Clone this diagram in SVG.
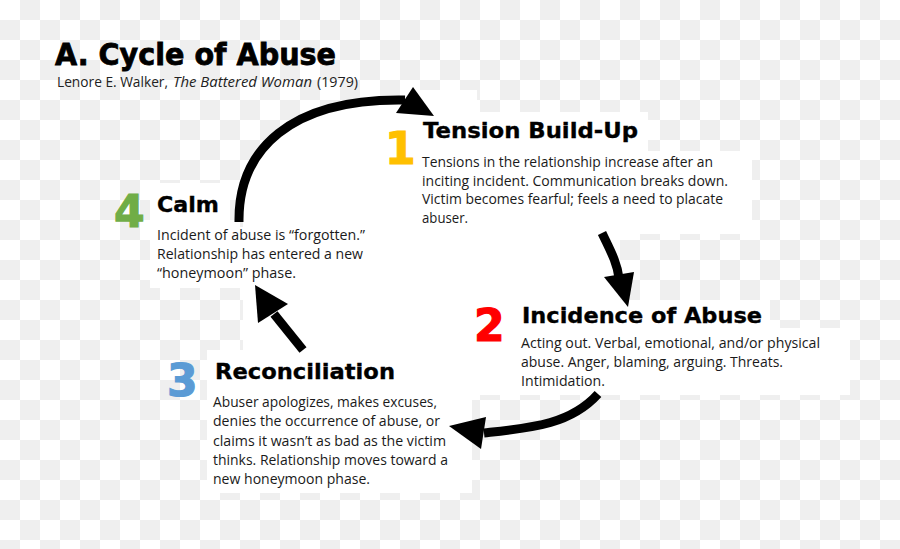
<svg xmlns="http://www.w3.org/2000/svg" width="900" height="549" viewBox="0 0 900 549">
<defs>
<pattern id="checker" x="0" y="0" width="40" height="40" patternUnits="userSpaceOnUse">
<rect x="0" y="0" width="40" height="40" fill="#ffffff"/>
<rect x="20" y="0" width="20" height="20" fill="#efefef"/>
<rect x="0" y="20" width="20" height="20" fill="#efefef"/>
</pattern>
<style>
.bg{fill:#ffffff;}
.title{font-family:"DejaVu Sans","Liberation Sans",sans-serif;font-weight:bold;font-size:30px;fill:#000;stroke:#000;stroke-width:0.8;}
.sub{font-family:"Open Sans","Liberation Sans",sans-serif;font-size:14px;fill:#222;}
.head{font-family:"DejaVu Sans","Liberation Sans",sans-serif;font-weight:bold;font-size:22px;fill:#000;stroke:#000;stroke-width:0.35;}
.num{font-family:"DejaVu Sans","Liberation Sans",sans-serif;font-weight:bold;font-size:44px;stroke-width:1.2;}
.body{font-family:"Open Sans","Liberation Sans",sans-serif;font-size:14px;fill:#1a1a1a;}
.shaft{fill:none;stroke:#000;stroke-width:9;}
.head-arrow{fill:#000;}
</style>
</defs>
<rect x="0" y="0" width="900" height="549" fill="url(#checker)"/>
<g id="white-areas" class="bg">
<path d="M243 290 L243 180 C250 140 300 104 405 104 L420 104 L420 300 L470 300 L470 350 L243 350 Z"/>
<rect x="150" y="183" width="80" height="45"/>
<rect x="150" y="227" width="222" height="61"/>
<rect x="420" y="90" width="57" height="22"/>
<rect x="417" y="112" width="231" height="40"/>
<rect x="417" y="151" width="335" height="83"/>
<rect x="420" y="233" width="200" height="67"/>
<rect x="470" y="300" width="300" height="28"/>
<rect x="470" y="328" width="380" height="67"/>
<rect x="207" y="350" width="265" height="40"/>
<rect x="207" y="390" width="265" height="103"/>
</g>
<g id="title">
<text class="title" x="55" y="65" textLength="281" lengthAdjust="spacingAndGlyphs">A. Cycle of Abuse</text>
<text class="sub" x="57" y="87" textLength="111" lengthAdjust="spacingAndGlyphs">Lenore E. Walker,</text>
<text class="sub" x="173" y="87" font-style="italic" textLength="139" lengthAdjust="spacingAndGlyphs">The Battered Woman</text>
<text class="sub" x="317" y="87" textLength="41" lengthAdjust="spacingAndGlyphs">(1979)</text>
</g>
<g id="connectors">
<path class="shaft" d="M239 222 C238 150 290 98 405 100"/>
<polygon class="head-arrow" points="413,87 434,116 396,113"/>
<path class="shaft" stroke-width="8" d="M602 233 C610 250 617 262 619 278"/>
<polygon class="head-arrow" points="604,277 634,272 628,307"/>
<path class="shaft" d="M598 394 C570 425 530 428 484 433"/>
<polygon class="head-arrow" points="449,426 486,417 481,449"/>
<path class="shaft" d="M303 350 L274 314"/>
<polygon class="head-arrow" points="255,285 288,304 258,323"/>
</g>
<g id="node-1">
<text class="num" x="385" y="164" fill="#FFC000" stroke="#FFC000">1</text>
<text class="head" x="423" y="138" textLength="215" lengthAdjust="spacingAndGlyphs">Tension Build-Up</text>
<text class="body" x="422" y="167" textLength="291" lengthAdjust="spacingAndGlyphs">Tensions in the relationship increase after an</text>
<text class="body" x="422" y="186" textLength="306" lengthAdjust="spacingAndGlyphs">inciting incident. Communication breaks down.</text>
<text class="body" x="422" y="204" textLength="301" lengthAdjust="spacingAndGlyphs">Victim becomes fearful; feels a need to placate</text>
<text class="body" x="422" y="223" textLength="46" lengthAdjust="spacingAndGlyphs">abuser.</text>
</g>
<g id="node-2">
<text class="num" x="474" y="341" fill="#FF0000" stroke="#FF0000">2</text>
<text class="head" x="522" y="323" textLength="240" lengthAdjust="spacingAndGlyphs">Incidence of Abuse</text>
<text class="body" x="521" y="348" textLength="299" lengthAdjust="spacingAndGlyphs">Acting out. Verbal, emotional, and/or physical</text>
<text class="body" x="521" y="367" textLength="262" lengthAdjust="spacingAndGlyphs">abuse. Anger, blaming, arguing. Threats.</text>
<text class="body" x="521" y="386" textLength="84" lengthAdjust="spacingAndGlyphs">Intimidation.</text>
</g>
<g id="node-3">
<text class="num" x="167" y="396" fill="#5B9BD5" stroke="#5B9BD5">3</text>
<text class="head" x="215" y="379" textLength="180" lengthAdjust="spacingAndGlyphs">Reconciliation</text>
<text class="body" x="213" y="407" textLength="224" lengthAdjust="spacingAndGlyphs">Abuser apologizes, makes excuses,</text>
<text class="body" x="213" y="426" textLength="227" lengthAdjust="spacingAndGlyphs">denies the occurrence of abuse, or</text>
<text class="body" x="213" y="446" textLength="233" lengthAdjust="spacingAndGlyphs">claims it wasn’t as bad as the victim</text>
<text class="body" x="213" y="465" textLength="235" lengthAdjust="spacingAndGlyphs">thinks. Relationship moves toward a</text>
<text class="body" x="213" y="484" textLength="157" lengthAdjust="spacingAndGlyphs">new honeymoon phase.</text>
</g>
<g id="node-4">
<text class="num" x="114" y="227" fill="#70AD47" stroke="#70AD47">4</text>
<text class="head" x="157" y="212" textLength="62" lengthAdjust="spacingAndGlyphs">Calm</text>
<text class="body" x="157" y="240" textLength="208" lengthAdjust="spacingAndGlyphs">Incident of abuse is “forgotten.”</text>
<text class="body" x="157" y="259" textLength="206" lengthAdjust="spacingAndGlyphs">Relationship has entered a new</text>
<text class="body" x="157" y="278" textLength="139" lengthAdjust="spacingAndGlyphs">“honeymoon” phase.</text>
</g>
</svg>
